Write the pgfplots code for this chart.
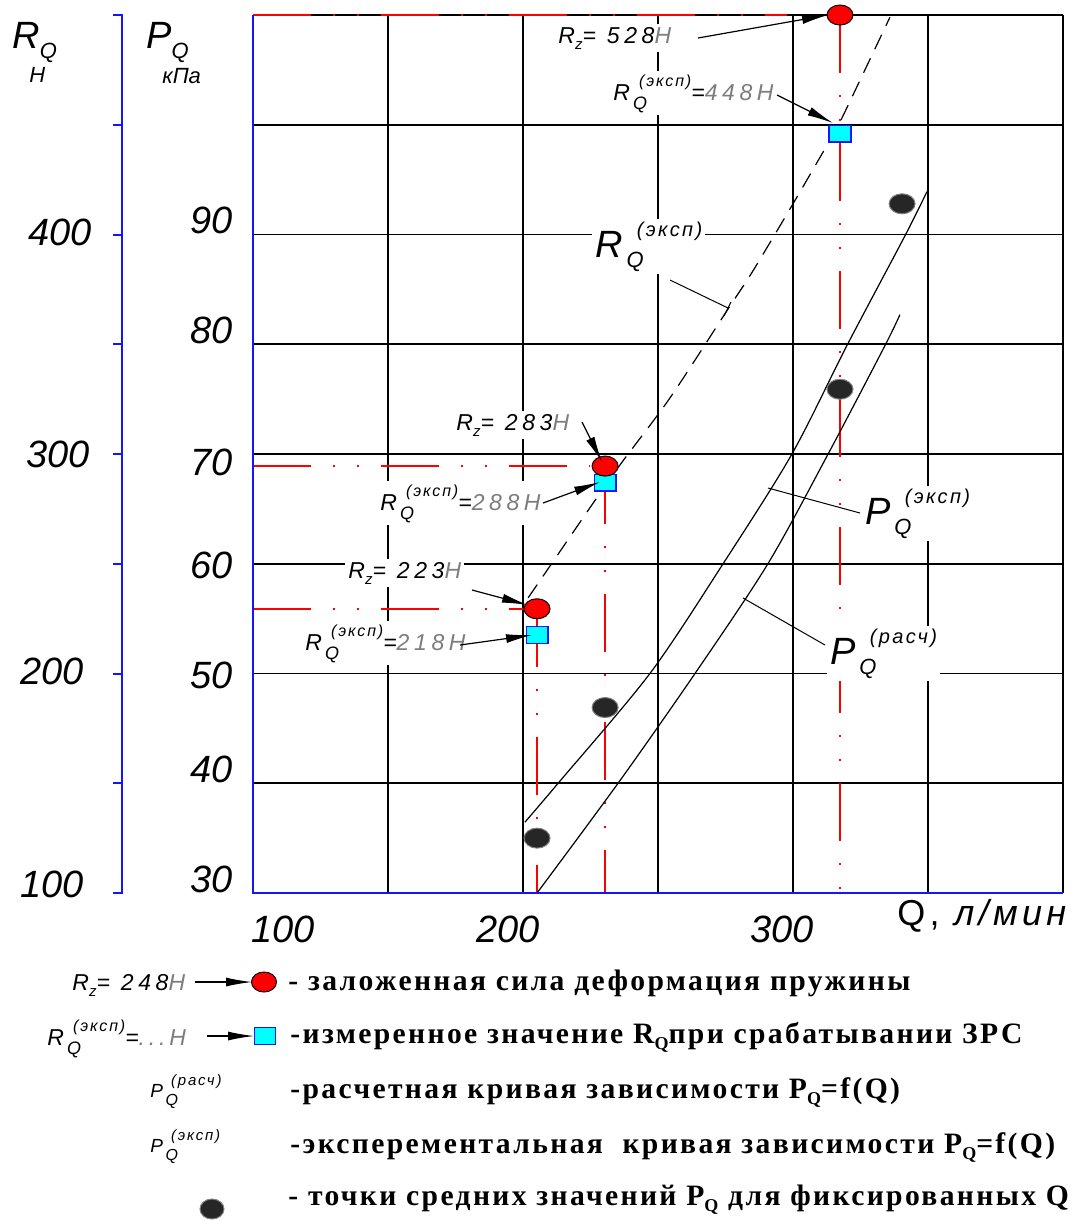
\documentclass[border=0pt]{standalone}
\usepackage{fontspec}
\setmainfont{Liberation Sans}
\newfontfamily\annf[LetterSpace=20]{Liberation Sans}
\newfontfamily\supf[LetterSpace=12]{Liberation Sans}
\newfontfamily\legf[LetterSpace=8]{Liberation Serif}
\usepackage{pgfplots}
\pgfplotsset{compat=1.18}
\usetikzlibrary{arrows.meta}
\definecolor{hgray}{RGB}{125,125,125}
\definecolor{dotc}{RGB}{38,38,38}
\definecolor{cyanf}{RGB}{0,255,255}
\definecolor{bluel}{RGB}{20,20,255}
\newcommand{\fs}[1]{\fontsize{#1}{#1}\selectfont}
% annotation R_z = value H
\newcommand{\Rz}[1]{{\annf\itshape\fs{11.5}R\raisebox{-3pt}{\fs{7.5}z}= #1\textcolor{hgray}{H}}}
% annotation R_Q^(eksp) = value H
\newcommand{\RQe}[1]{{\annf\itshape\fs{11.5}R\rlap{\raisebox{-4.5pt}{\fs{9}\,Q}}\kern4.5pt\raisebox{7pt}{\supf\fs{8}(эксп)}=\textcolor{hgray}{#1H}}}
% big labels
\newcommand{\BigLab}[2]{{\itshape\fs{19}#1\rlap{\raisebox{-5pt}{\fs{11}\,Q}}\kern7pt\raisebox{10.5pt}{\supf\fs{10}(#2)}}}
\newcommand{\SmallLab}[2]{{\itshape\fs{9.5}#1\rlap{\raisebox{-4pt}{\fs{8}\,Q}}\kern4pt\raisebox{6pt}{\supf\fs{7.5}(#2)}}}
\newcommand{\legt}{\legf\bfseries\fs{14.8}}
\newcommand{\lsub}{\raisebox{-3pt}{\fs{9}Q}}
\begin{document}
\begin{tikzpicture}
\useasboundingbox (0,0) rectangle (538.5pt,-610pt);
% ---------------- main axis ----------------
\begin{axis}[at={(126.5pt,-446.5pt)}, anchor=south west, scale only axis,
  width=405pt, height=439pt,
  xmin=100, xmax=400, ymin=30, ymax=110,
  xtick={100,150,...,400}, ytick={30,40,...,110},
  xticklabels={}, yticklabels={}, major tick length=0pt,
  grid=major, major grid style={draw=black, line width=0.8pt},
  axis line style={draw=none}, clip=false]
% red dash-dot reference lines
\pgfplotsset{refl/.style={red, line width=0.75pt, dash pattern=on 29pt off 11pt on 1pt off 11pt on 1pt off 11pt}}
\addplot[refl] coordinates {(100,110) (297.8,110)};
\addplot[refl] coordinates {(100,68.9) (224.8,68.9)};
\addplot[refl] coordinates {(100,55.9) (200.7,55.9)};
\addplot[refl] coordinates {(317.4,110) (317.4,30)};
\addplot[refl] coordinates {(230.4,68.9) (230.4,30)};
\addplot[refl] coordinates {(205.2,55.9) (205.2,30)};
% P_Q (eksp) curve
\addplot[black, line width=0.6pt, smooth] coordinates {
 (200.7,36.45) (213.0,40.0) (247.0,50.0) (274.1,60.0) (299.6,70.0) (320.0,79.9) (341.5,89.9) (349.6,93.9)};
% P_Q (rasch) curve
\addplot[black, line width=0.6pt, smooth] coordinates {
 (205.2,30.0) (235.2,40.0) (263.7,50.0) (290.7,60.0) (313.0,70.0) (334.1,79.9) (339.6,82.7)};
% R_Q (eksp) dashed curve
\addplot[black, line width=0.6pt, smooth, dash pattern=on 8pt off 5pt] coordinates {
 (201.9,56.9) (208.9,59.4) (225.9,65.5) (236.5,69.2) (254.4,75.1) (275.9,83.2) (285.2,86.7) (300.0,92.8) (311.1,97.5) (316.7,99.9) (335.9,109.8)};
% measured squares
\addplot[only marks, mark=square*, mark size=4.2pt, mark options={xscale=1.3, fill=cyanf, draw=bluel, line width=0.6pt}] coordinates {
 (317.4,99.2) (230.4,67.4) (205.2,53.5)};
% R_z circles
\addplot[only marks, mark=*, mark size=5pt, mark options={xscale=1.3, fill=red, draw=black, line width=0.5pt}] coordinates {
 (317.4,110) (230.4,68.9) (205.2,55.9)};
% mean points
\addplot[only marks, mark=*, mark size=5pt, mark options={xscale=1.3, fill=dotc, draw=gray, line width=0.5pt}] coordinates {
 (205.2,35.0) (230.4,46.9) (317.4,75.9) (340.4,92.8)};
\draw[bluel, line width=1pt] (rel axis cs:0,1) -- (rel axis cs:0,0) -- (rel axis cs:1,0);
\end{axis}
% ---------------- overlay (pixel coordinates) ----------------
\begin{axis}[at={(0pt,0pt)}, anchor=north west, scale only axis,
  width=538.5pt, height=610pt, xmin=0, xmax=1077, ymin=0, ymax=1220,
  y dir=reverse, hide axis, clip=false]
% R axis
\draw[bluel, line width=1pt] (113,15) -- (122,15) -- (122,893) -- (113,893);
\draw[bluel, line width=1pt] (113,124.75)--(122,124.75) (113,234.5)--(122,234.5) (113,344.25)--(122,344.25)
  (113,454)--(122,454) (113,563.75)--(122,563.75) (113,673.5)--(122,673.5) (113,783.25)--(122,783.25);
% axis titles
\node[anchor=base west, inner sep=0pt] at (12,48) {\itshape\fs{19}R\raisebox{-5pt}{\fs{11}Q}};
\node[anchor=base west, inner sep=0pt] at (29,82) {\itshape\fs{11}H};
\node[anchor=base west, inner sep=0pt] at (146,48) {\itshape\fs{19}P\raisebox{-5pt}{\fs{11}Q}};
\node[anchor=base west, inner sep=0pt] at (162,83) {\itshape\fs{11}кПа};
% R tick labels
\node[anchor=base east, inner sep=0pt] at (92,245) {\itshape\fs{19}400};
\node[anchor=base east, inner sep=0pt] at (90,467) {\itshape\fs{19}300};
\node[anchor=base east, inner sep=0pt] at (84,684) {\itshape\fs{19}200};
\node[anchor=base east, inner sep=0pt] at (84,897) {\itshape\fs{19}100};
% P tick labels
\node[anchor=base east, inner sep=0pt] at (233,233) {\itshape\fs{19}90};
\node[anchor=base east, inner sep=0pt] at (233,343) {\itshape\fs{19}80};
\node[anchor=base east, inner sep=0pt] at (233,475) {\itshape\fs{19}70};
\node[anchor=base east, inner sep=0pt] at (233,578) {\itshape\fs{19}60};
\node[anchor=base east, inner sep=0pt] at (233,688) {\itshape\fs{19}50};
\node[anchor=base east, inner sep=0pt] at (233,782) {\itshape\fs{19}40};
\node[anchor=base east, inner sep=0pt] at (233,892) {\itshape\fs{19}30};
% Q tick labels
\node[anchor=base, inner sep=0pt] at (283,942) {\itshape\fs{19}100};
\node[anchor=base, inner sep=0pt] at (508,942) {\itshape\fs{19}200};
\node[anchor=base, inner sep=0pt] at (782,942) {\itshape\fs{19}300};
\node[anchor=base west, inner sep=0pt] at (897,925) {\supf\fs{18}Q, \itshape л/мин};
% annotations
\begin{scope}[every node/.style={anchor=base west, fill=white, inner sep=1.5pt}]
\node at (555,43) {\Rz{528}};
\node at (610,100) {\RQe{448}};
\node at (453,430) {\Rz{283}};
\node at (377,510) {\RQe{288}};
\node at (345,578) {\Rz{223}};
\node at (302,650) {\RQe{218}};
\node at (592,257) {\BigLab{R}{эксп}};
\node at (862,524) {\BigLab{P}{эксп}};
\node at (827,664) {\BigLab{P}{расч}};
\end{scope}
\begin{scope}[line width=0.6pt, -{Latex[length=13pt,width=4.5pt]}]
\draw (698,38) -- (828,15);
\draw (777,95) -- (833,123);
\draw (582,422) -- (602,462);
\draw (543,503) -- (600,482);
\draw (472,590) -- (528,605);
\draw (460,645) -- (532,635);
\end{scope}
% leader lines
\draw[line width=0.5pt] (670,280) -- (728,308);
\draw[line width=0.5pt] (724,316) -- (731,302);
\draw[line width=0.5pt] (768,488) -- (860,513);
\draw[line width=0.5pt] (743,598) -- (825,645);
% ---------------- legend ----------------
\node[anchor=base west, inner sep=0pt] at (72,990) {\Rz{248}};
\draw[line width=0.6pt, -{Latex[length=13pt,width=4.5pt]}] (195,982) -- (252,982);
\addplot[only marks, mark=*, mark size=5pt, mark options={xscale=1.25, fill=red, draw=black, line width=0.5pt}] coordinates {(264,982)};
\node[anchor=base west, inner sep=0pt] at (288,990) {\legt - заложенная сила деформация пружины};
\node[anchor=base west, inner sep=0pt] at (47,1045) {\RQe{.\,.\,.\,}};
\draw[line width=0.6pt, -{Latex[length=13pt,width=4.5pt]}] (207,1036) -- (254,1036);
\addplot[only marks, mark=square*, mark size=4.2pt, mark options={xscale=1.25, fill=cyanf, draw=bluel, line width=0.6pt}] coordinates {(265,1036)};
\node[anchor=base west, inner sep=0pt] at (290,1043) {\legt -измеренное значение R\lsub при срабатывании ЗРС};
\node[anchor=base west, inner sep=0pt] at (150,1097) {\SmallLab{P}{расч}};
\node[anchor=base west, inner sep=0pt] at (290,1098) {\legt -расчетная кривая зависимости P\lsub=f(Q)};
\node[anchor=base west, inner sep=0pt] at (150,1152) {\SmallLab{P}{эксп}};
\node[anchor=base west, inner sep=0pt] at (290,1153) {\legt -эксперементальная \ кривая зависимости P\lsub=f(Q)};
\addplot[only marks, mark=*, mark size=5pt, mark options={xscale=1.2, fill=dotc, draw=gray, line width=0.5pt}] coordinates {(212,1209)};
\node[anchor=base west, inner sep=0pt] at (288,1205) {\legt - точки средних значений P\lsub{} для фиксированных Q};
\end{axis}
\end{tikzpicture}
\end{document}
